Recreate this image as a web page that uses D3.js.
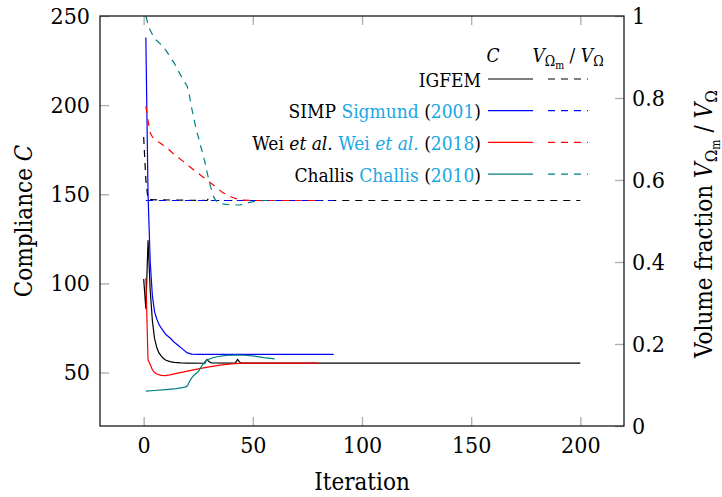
<!DOCTYPE html>
<html>
<head>
<meta charset="utf-8">
<script src="https://cdn.jsdelivr.net/npm/d3@7"></script>
<style>
  body { margin: 0; background: #fff; }
  text { font-family: "DejaVu Serif Condensed", "DejaVu Serif", serif; font-stretch: condensed; fill: #000; }
</style>
</head>
<body>
<svg id="chart" width="722" height="497"></svg>
<script>
// ---- data: compliance (left axis) and volume fraction (right axis) per iteration ----
const igfemIter   = [0, 1, 2, 3, 4, 5, 6, 7, 8, 9, 10, 12, 14, 17, 20, 28, 29, 30, 31, 42, 43, 44, 45, 200];
const igfemC      = [102.5, 86, 124, 96, 79, 69, 64, 61, 59.3, 58, 57, 56.1, 55.7, 55.4, 55.3, 55.2, 57.4, 56, 55.4, 55.3, 57.4, 55.8, 55.3, 55.3];
const igfemVIter  = [0, 1, 2, 29, 30, 31, 200];
const igfemV      = [0.705, 0.6, 0.552, 0.55, 0.557, 0.55, 0.55];

const simpIter    = [1, 2, 3, 4, 5, 6, 7, 8, 10, 12, 14, 16, 18, 20, 22, 25, 87];
const simpC       = [238, 150, 112, 93, 84, 80, 77, 75, 71.5, 69.5, 67, 65, 63, 61, 60.3, 60.2, 60.2];
const simpVIter   = [1, 87];
const simpV       = [0.55, 0.55];

const weiIter     = [1, 2, 3, 4, 5, 6, 8, 10, 12, 15, 20, 25, 30, 35, 40, 45, 80];
const weiC        = [103, 57, 54.5, 51.5, 50, 49.2, 48.4, 48.3, 48.7, 49.5, 50.8, 52, 53.2, 54.2, 54.9, 55.3, 55.3];
const weiVIter    = [1, 2, 3, 4, 5, 7, 9, 11, 13, 15, 18, 21, 24, 27, 30, 33, 36, 39, 42, 45, 50, 80];
const weiV        = [0.78, 0.745, 0.715, 0.705, 0.7, 0.692, 0.685, 0.677, 0.667, 0.658, 0.646, 0.633, 0.62, 0.608, 0.596, 0.583, 0.57, 0.561, 0.555, 0.551, 0.55, 0.55];

const challisIter  = [1, 5, 10, 15, 19, 20, 21, 22, 23, 24, 25, 26, 27, 28, 29, 31, 34, 38, 42, 46, 50, 55, 60];
const challisC     = [39.6, 39.9, 40.4, 41, 41.8, 42.5, 45, 47, 48.5, 49.5, 50.5, 52.5, 54.5, 56, 57, 58, 59, 59.6, 59.8, 59.7, 59.3, 58.4, 57.7];
const challisVIter = [1, 2, 3, 5, 7, 9, 11, 12, 14, 16, 18, 20, 21, 22, 23, 24, 25, 26, 27, 28, 29, 30, 31, 32, 33, 34, 36, 40, 44, 48, 52, 56, 60];
const challisV     = [1.0, 0.98, 0.965, 0.945, 0.935, 0.925, 0.91, 0.9, 0.885, 0.865, 0.845, 0.828, 0.805, 0.775, 0.75, 0.725, 0.705, 0.685, 0.665, 0.645, 0.62, 0.597, 0.577, 0.56, 0.55, 0.546, 0.542, 0.539, 0.539, 0.545, 0.549, 0.55, 0.55];

const xTicks  = [0, 50, 100, 150, 200];
const yTicks  = [50, 100, 150, 200, 250];
const y2Ticks = [0, 0.2, 0.4, 0.6, 0.8, 1];

const seriesNames  = ["IGFEM", "SIMP", "Wei", "Challis"];
const seriesColors = ["#000000", "#0000ff", "#ff0000", "#008080"];
const citeColor = "#20a6e4";

// ---- layout ----
const svg = d3.select("#chart");
const L = 100, R = 624, T = 16, B = 426;
const x  = d3.scaleLinear().domain([-20, 220]).range([L, R]);
const y  = d3.scaleLinear().domain([20, 250]).range([B, T]);
const y2 = d3.scaleLinear().domain([0, 1]).range([B, T]);

const tickFS = 23, titleFS = 24, legendFS = 19;
const tickLen = 9, tickColor = "#b0b0b0";

function styleAxis(g) {
  g.select(".domain").remove();
  g.selectAll(".tick line").attr("stroke", tickColor).attr("stroke-width", 1.4);
  g.selectAll(".tick text").attr("font-size", tickFS).attr("font-family", null);
}

// bottom and top x axes
svg.append("g").attr("transform", `translate(0,${B})`)
  .call(d3.axisBottom(x).tickValues(xTicks).tickFormat(d3.format("d")).tickSizeInner(-tickLen).tickSizeOuter(0).tickPadding(11))
  .call(styleAxis);
svg.append("g").attr("transform", `translate(0,${T})`)
  .call(d3.axisTop(x).tickValues(xTicks).tickFormat("").tickSizeInner(-tickLen).tickSizeOuter(0))
  .call(styleAxis);
// left compliance axis
svg.append("g").attr("transform", `translate(${L},0)`)
  .call(d3.axisLeft(y).tickValues(yTicks).tickFormat(d3.format("d")).tickSizeInner(-tickLen).tickSizeOuter(0).tickPadding(10))
  .call(styleAxis);
// right volume-fraction axis
svg.append("g").attr("transform", `translate(${R},0)`)
  .call(d3.axisRight(y2).tickValues(y2Ticks).tickFormat(d => d3.format("")(d)).tickSizeInner(-tickLen).tickSizeOuter(0).tickPadding(8))
  .call(styleAxis);

// clip region for the curves
svg.append("clipPath").attr("id", "plotClip")
  .append("rect").attr("x", L).attr("y", T - 1).attr("width", R - L).attr("height", B - T + 1);

const lineC = d3.line().x(d => x(d[0])).y(d => y(d[1]));
const lineV = d3.line().x(d => x(d[0])).y(d => y2(d[1]));
const zip = (a, b) => a.map((v, i) => [v, b[i]]);

const solidSets  = [zip(igfemIter, igfemC), zip(simpIter, simpC), zip(weiIter, weiC), zip(challisIter, challisC)];
const dashedSets = [zip(igfemVIter, igfemV), zip(simpVIter, simpV), zip(weiVIter, weiV), zip(challisVIter, challisV)];

const plot = svg.append("g").attr("clip-path", "url(#plotClip)");
solidSets.forEach((pts, i) => {
  plot.append("path").attr("d", lineC(pts)).attr("fill", "none")
    .attr("stroke", seriesColors[i]).attr("stroke-width", 1.2).attr("stroke-linejoin", "round");
});
dashedSets.forEach((pts, i) => {
  plot.append("path").attr("d", lineV(pts)).attr("fill", "none")
    .attr("stroke", seriesColors[i]).attr("stroke-width", 1.2).attr("stroke-dasharray", "7,6");
});

// frame
svg.append("rect").attr("x", L).attr("y", T).attr("width", R - L).attr("height", B - T)
  .attr("fill", "none").attr("stroke", "#1a1a1a").attr("stroke-width", 1.3);

// ---- axis titles ----
svg.append("text").attr("x", 362).attr("y", 490).attr("text-anchor", "middle")
  .attr("font-size", titleFS).text("Iteration");

const yt = svg.append("text").attr("transform", "translate(32,221) rotate(-90)")
  .attr("text-anchor", "middle").attr("font-size", titleFS);
yt.append("tspan").text("Compliance ");
yt.append("tspan").attr("font-style", "italic").text("C");

const y2t = svg.append("text").attr("transform", "translate(712,224) rotate(-90)")
  .attr("text-anchor", "middle").attr("font-size", titleFS);
y2t.append("tspan").text("Volume fraction ");
y2t.append("tspan").attr("font-style", "italic").text("V");
y2t.append("tspan").attr("font-size", 17).attr("dy", 5).text("Ω");
y2t.append("tspan").attr("font-size", 12).attr("dy", 3).text("m");
y2t.append("tspan").attr("dy", -8).text(" / ");
y2t.append("tspan").attr("font-style", "italic").text("V");
y2t.append("tspan").attr("font-size", 17).attr("dy", 5).text("Ω");

// ---- legend ----
const legendRows = [
  [{ t: "IGFEM" }],
  [{ t: "SIMP " }, { t: "Sigmund", c: 1 }, { t: " (" }, { t: "2001", c: 1 }, { t: ")" }],
  [{ t: "Wei " }, { t: "et al.", i: 1 }, { t: " " }, { t: "Wei ", c: 1 }, { t: "et al.", c: 1, i: 1 }, { t: " (" }, { t: "2018", c: 1 }, { t: ")" }],
  [{ t: "Challis " }, { t: "Challis", c: 1 }, { t: " (" }, { t: "2010", c: 1 }, { t: ")" }]
];
const rowY0 = 79, rowStep = 31.7;
const textRight = 481, solidX0 = 488, solidX1 = 533, dashX0 = 548, dashX1 = 588;

// header
svg.append("text").attr("x", 493).attr("y", 62).attr("text-anchor", "middle")
  .attr("font-size", legendFS).attr("font-style", "italic").text("C");
const hv = svg.append("text").attr("x", 568).attr("y", 62).attr("text-anchor", "middle").attr("font-size", legendFS);
hv.append("tspan").attr("font-style", "italic").text("V");
hv.append("tspan").attr("font-size", 14).attr("dy", 4).text("Ω");
hv.append("tspan").attr("font-size", 10.5).attr("dy", 3).text("m");
hv.append("tspan").attr("dy", -7).text(" / ");
hv.append("tspan").attr("font-style", "italic").text("V");
hv.append("tspan").attr("font-size", 14).attr("dy", 4).text("Ω");

legendRows.forEach((segs, i) => {
  const cy = rowY0 + i * rowStep;
  const t = svg.append("text").attr("x", textRight).attr("y", cy + 7.5)
    .attr("text-anchor", "end").attr("font-size", legendFS);
  segs.forEach(s => {
    const ts = t.append("tspan").text(s.t);
    if (s.c) ts.style("fill", citeColor);
    if (s.i) ts.attr("font-style", "italic");
  });
  svg.append("line").attr("x1", solidX0).attr("x2", solidX1).attr("y1", cy).attr("y2", cy)
    .attr("stroke", seriesColors[i]).attr("stroke-width", 1.2);
  svg.append("line").attr("x1", dashX0).attr("x2", dashX1).attr("y1", cy).attr("y2", cy)
    .attr("stroke", seriesColors[i]).attr("stroke-width", 1.2).attr("stroke-dasharray", "7,6");
});
</script>
</body>
</html>
